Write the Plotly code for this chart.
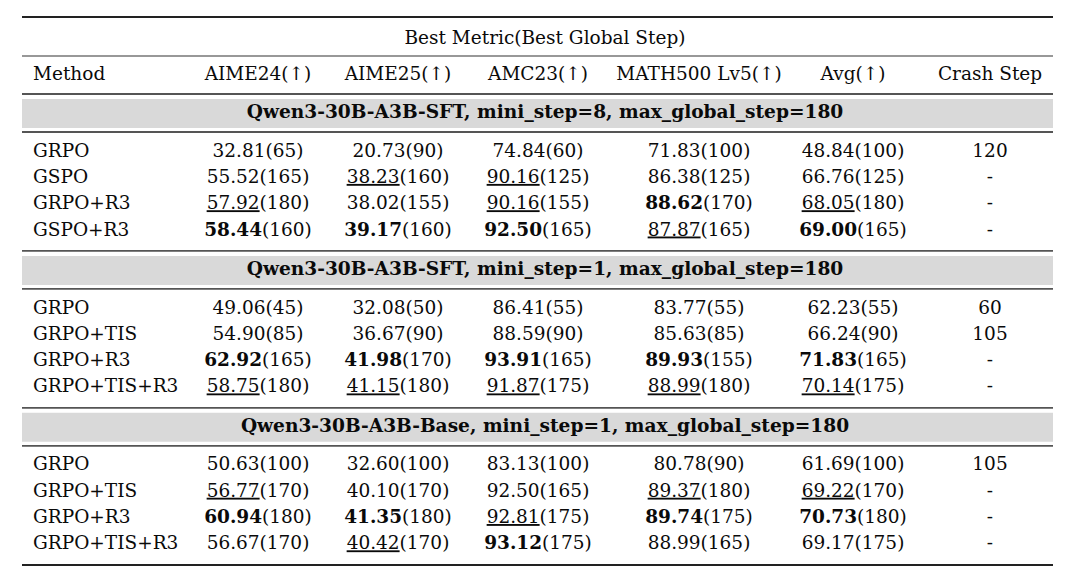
import plotly.graph_objects as go

# ---- data ----
section_titles = [
    "Qwen3-30B-A3B-SFT, mini_step=8, max_global_step=180",
    "Qwen3-30B-A3B-SFT, mini_step=1, max_global_step=180",
    "Qwen3-30B-A3B-Base, mini_step=1, max_global_step=180",
]
super_header = "Best Metric(Best Global Step)"
columns = ["Method", "AIME24(↑)", "AIME25(↑)", "AMC23(↑)", "MATH500 Lv5(↑)", "Avg(↑)", "Crash Step"]

methods_1 = ["GRPO", "GSPO", "GRPO+R3", "GSPO+R3"]
scores_1 = [[32.81, 20.73, 74.84, 71.83, 48.84],
            [55.52, 38.23, 90.16, 86.38, 66.76],
            [57.92, 38.02, 90.16, 88.62, 68.05],
            [58.44, 39.17, 92.50, 87.87, 69.00]]
steps_1 = [[65, 90, 60, 100, 100],
           [165, 160, 125, 125, 125],
           [180, 155, 155, 170, 180],
           [160, 160, 165, 165, 165]]
crash_1 = ["120", "-", "-", "-"]

methods_2 = ["GRPO", "GRPO+TIS", "GRPO+R3", "GRPO+TIS+R3"]
scores_2 = [[49.06, 32.08, 86.41, 83.77, 62.23],
            [54.90, 36.67, 88.59, 85.63, 66.24],
            [62.92, 41.98, 93.91, 89.93, 71.83],
            [58.75, 41.15, 91.87, 88.99, 70.14]]
steps_2 = [[45, 50, 55, 55, 55],
           [85, 90, 90, 85, 90],
           [165, 170, 165, 155, 165],
           [180, 180, 175, 180, 175]]
crash_2 = ["60", "105", "-", "-"]

methods_3 = ["GRPO", "GRPO+TIS", "GRPO+R3", "GRPO+TIS+R3"]
scores_3 = [[50.63, 32.60, 83.13, 80.78, 61.69],
            [56.77, 40.10, 92.50, 89.37, 69.22],
            [60.94, 41.35, 92.81, 89.74, 70.73],
            [56.67, 40.42, 93.12, 88.99, 69.17]]
steps_3 = [[100, 100, 100, 90, 100],
           [170, 170, 165, 180, 170],
           [180, 180, 175, 175, 180],
           [170, 170, 175, 165, 175]]
crash_3 = ["105", "-", "-", "-"]

sections = [(methods_1, scores_1, steps_1, crash_1),
            (methods_2, scores_2, steps_2, crash_2),
            (methods_3, scores_3, steps_3, crash_3)]

# ---- layout (screen pixel units; page body has an 8px margin) ----
W, H = 1080, 583
OFF = 8
x_left, x_right = 22, 1053
col_x = [33, 258, 398, 538, 699, 853, 990]
title_x = 545
row_step = 26.3

FONT = "DejaVu Serif"
FS = 18.5
INK = "#0a0a0a"


def fmt(score, step, col_scores):
    # best value in the column is bold, runner-up is underlined
    ranked = sorted(set(col_scores), reverse=True)
    s = "%.2f" % score
    if score == ranked[0]:
        s = "<b>" + s + "</b>"
    elif score == ranked[1]:
        s = "<u>" + s + "</u>"
    return s + "(%d)" % step


fig = go.Figure()
shapes = []


def hline(y, width, color):
    shapes.append(dict(type="line", xref="x", yref="y", x0=x_left, x1=x_right,
                       y0=y, y1=y, line=dict(color=color, width=width)))


def add_text(xs, ys, texts, pos="middle center", bold=False, size=FS):
    fig.add_trace(go.Scatter(
        x=xs, y=ys, text=texts, mode="text", textposition=pos,
        textfont=dict(family=FONT, size=size, color=INK,
                      weight="bold" if bold else "normal"),
        hoverinfo="skip", showlegend=False))


hline(17, 2, "#222222")
add_text([title_x], [39], [super_header])
hline(56, 1.2, "#333333")
add_text([col_x[0]], [75], [columns[0]], pos="middle right")
add_text(col_x[1:], [75] * 6, columns[1:])
hline(94, 1.8, "#555555")

y = 94
for title, (methods, scores, steps, crash) in zip(section_titles, sections):
    band_top = y + 5
    band_bot = band_top + 29
    shapes.append(dict(type="rect", xref="x", yref="y", x0=x_left, x1=x_right,
                       y0=band_top, y1=band_bot, fillcolor="#d9d9d9",
                       line=dict(width=0), layer="below"))
    add_text([title_x], [(band_top + band_bot) / 2], [title], bold=True, size=18.6)
    rule = band_bot + 4
    hline(rule, 1.8, "#555555")
    ys = [rule + 20 + i * row_step for i in range(len(methods))]
    add_text([col_x[0]] * len(methods), ys, methods, pos="middle right")
    for j in range(5):
        col = [r[j] for r in scores]
        texts = [fmt(scores[i][j], steps[i][j], col) for i in range(len(methods))]
        add_text([col_x[j + 1]] * len(methods), ys, texts)
    add_text([col_x[6]] * len(methods), ys, crash)
    y = ys[-1] + 20
    if title != section_titles[-1]:
        hline(y, 1.8, "#555555")

hline(565, 2.2, "#222222")

fig.update_layout(
    width=W - OFF, height=H - OFF, margin=dict(l=0, r=0, t=0, b=0),
    paper_bgcolor="white", plot_bgcolor="white", shapes=shapes,
    xaxis=dict(range=[OFF, W], visible=False, fixedrange=True),
    yaxis=dict(range=[H, OFF], visible=False, fixedrange=True),
)
fig.write_html("out.html")
